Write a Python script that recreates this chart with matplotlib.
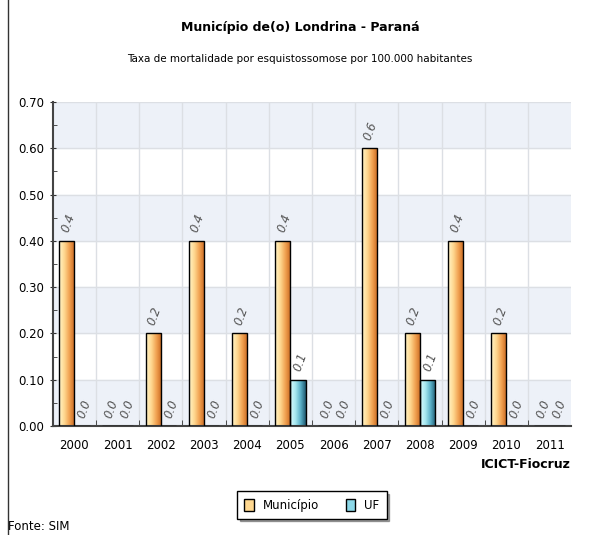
import matplotlib
matplotlib.use("Agg")
import matplotlib.pyplot as plt
import numpy as np
from matplotlib.colors import LinearSegmentedColormap
from matplotlib.patches import Patch

anos = ["2000", "2001", "2002", "2003", "2004", "2005",
        "2006", "2007", "2008", "2009", "2010", "2011"]
municipio = [0.4, 0.0, 0.2, 0.4, 0.2, 0.4, 0.0, 0.6, 0.2, 0.4, 0.2, 0.0]
uf = [0.0, 0.0, 0.0, 0.0, 0.0, 0.1, 0.0, 0.0, 0.1, 0.0, 0.0, 0.0]

plt.rcParams["font.family"] = ["DejaVu Sans"]

cmap_mun = LinearSegmentedColormap.from_list("mun", ["#fff4c8", "#ffd890", "#f0a050", "#c86820"])
cmap_uf = LinearSegmentedColormap.from_list("uf", ["#d8fbff", "#a8e8f0", "#5ab0c8", "#1e5870"])

fig = plt.figure(figsize=(6, 5.35), dpi=100)
ax = fig.add_axes([0.088, 0.2037, 0.864, 0.6056])

x = np.arange(len(anos))
w = 0.35

# faixas alternadas
for k in range(7):
    if k % 2 == 0:
        ax.axhspan(k * 0.1, k * 0.1 + 0.1, color="#edf1f8", zorder=0)
for k in range(8):
    ax.axhline(k * 0.1, color="#dcdfe4", lw=1, zorder=0.5)
for k in range(1, len(anos)):
    ax.axvline(k - 0.5, color="#dcdfe4", lw=1, zorder=0.5)

grad = np.linspace(0, 1, 64).reshape(1, -1)


def barras(xs, vals, cmap):
    bars = ax.bar(xs, vals, w, facecolor="none", edgecolor="black", lw=1.0, zorder=3)
    for b, v in zip(bars, vals):
        if v <= 0:
            continue
        x0 = b.get_x()
        im = ax.imshow(grad, cmap=cmap, aspect="auto", zorder=2,
                       extent=[x0, x0 + w, 0, v], interpolation="bicubic")
        im.set_clip_path(b)
    return bars


barras(x - w / 2, municipio, cmap_mun)
barras(x + w / 2, uf, cmap_uf)

for xi, v in zip(x, municipio):
    ax.text(xi - w / 2 + 0.03, v + 0.014, f"{v:.1f}", rotation=70, ha="center", va="bottom",
            fontsize=8.5, color="#555555", style="italic", zorder=4)
for xi, v in zip(x, uf):
    ax.text(xi + w / 2 + 0.06, v + 0.014, f"{v:.1f}", rotation=70, ha="center", va="bottom",
            fontsize=8.5, color="#555555", style="italic", zorder=4)

ax.set_xlim(-0.5, len(anos) - 0.5)
ax.set_ylim(0, 0.7)
ax.set_yticks(np.arange(0, 0.71, 0.1))
ax.set_yticklabels([f"{v:.2f}" for v in np.arange(0, 0.71, 0.1)], fontsize=8.5)
ax.set_yticks(np.arange(0.05, 0.7, 0.1), minor=True)
ax.set_xticks(x)
ax.set_xticklabels(anos, fontsize=8.5)
ax.set_xticks(np.arange(0.5, len(anos) - 0.5, 1), minor=True)
ax.tick_params(axis="x", which="major", length=0, pad=9)
ax.tick_params(axis="x", which="minor", length=4, direction="in", color="#333333")
ax.tick_params(axis="y", which="major", length=5, direction="inout", color="#333333")
ax.tick_params(axis="y", which="minor", length=3, direction="in", color="#333333")
for s in ["top", "right"]:
    ax.spines[s].set_visible(False)
for s in ["left", "bottom"]:
    ax.spines[s].set_color("#444444")
    ax.spines[s].set_linewidth(1.5)

fig.text(0.5, 0.948, "Município de(o) Londrina - Paraná", ha="center", va="center",
         fontsize=9, fontweight="bold")
fig.text(0.5, 0.889, "Taxa de mortalidade por esquistossomose por 100.000 habitantes",
         ha="center", va="center", fontsize=7.5)
fig.text(0.952, 0.131, "ICICT-Fiocruz", ha="right", va="center", fontsize=9, fontweight="bold")
fig.text(0.013, 0.015, "Fonte: SIM", ha="left", va="center", fontsize=8.5)

fig.add_artist(plt.Line2D([0.013, 0.013], [0.0, 1.0], color="#333333", lw=1))

handles = [Patch(facecolor="#ffd890", edgecolor="black", label="Município"),
           Patch(facecolor="#8cd8e8", edgecolor="black", label="UF")]
fig.legend(handles=handles, loc="center", bbox_to_anchor=(0.52, 0.056), ncol=2,
           fontsize=8.5, frameon=True, fancybox=False, edgecolor="black",
           handlelength=0.8, handleheight=1.2, columnspacing=2.2, shadow=True,
           borderpad=0.6)

fig.savefig("out.png", dpi=100)
